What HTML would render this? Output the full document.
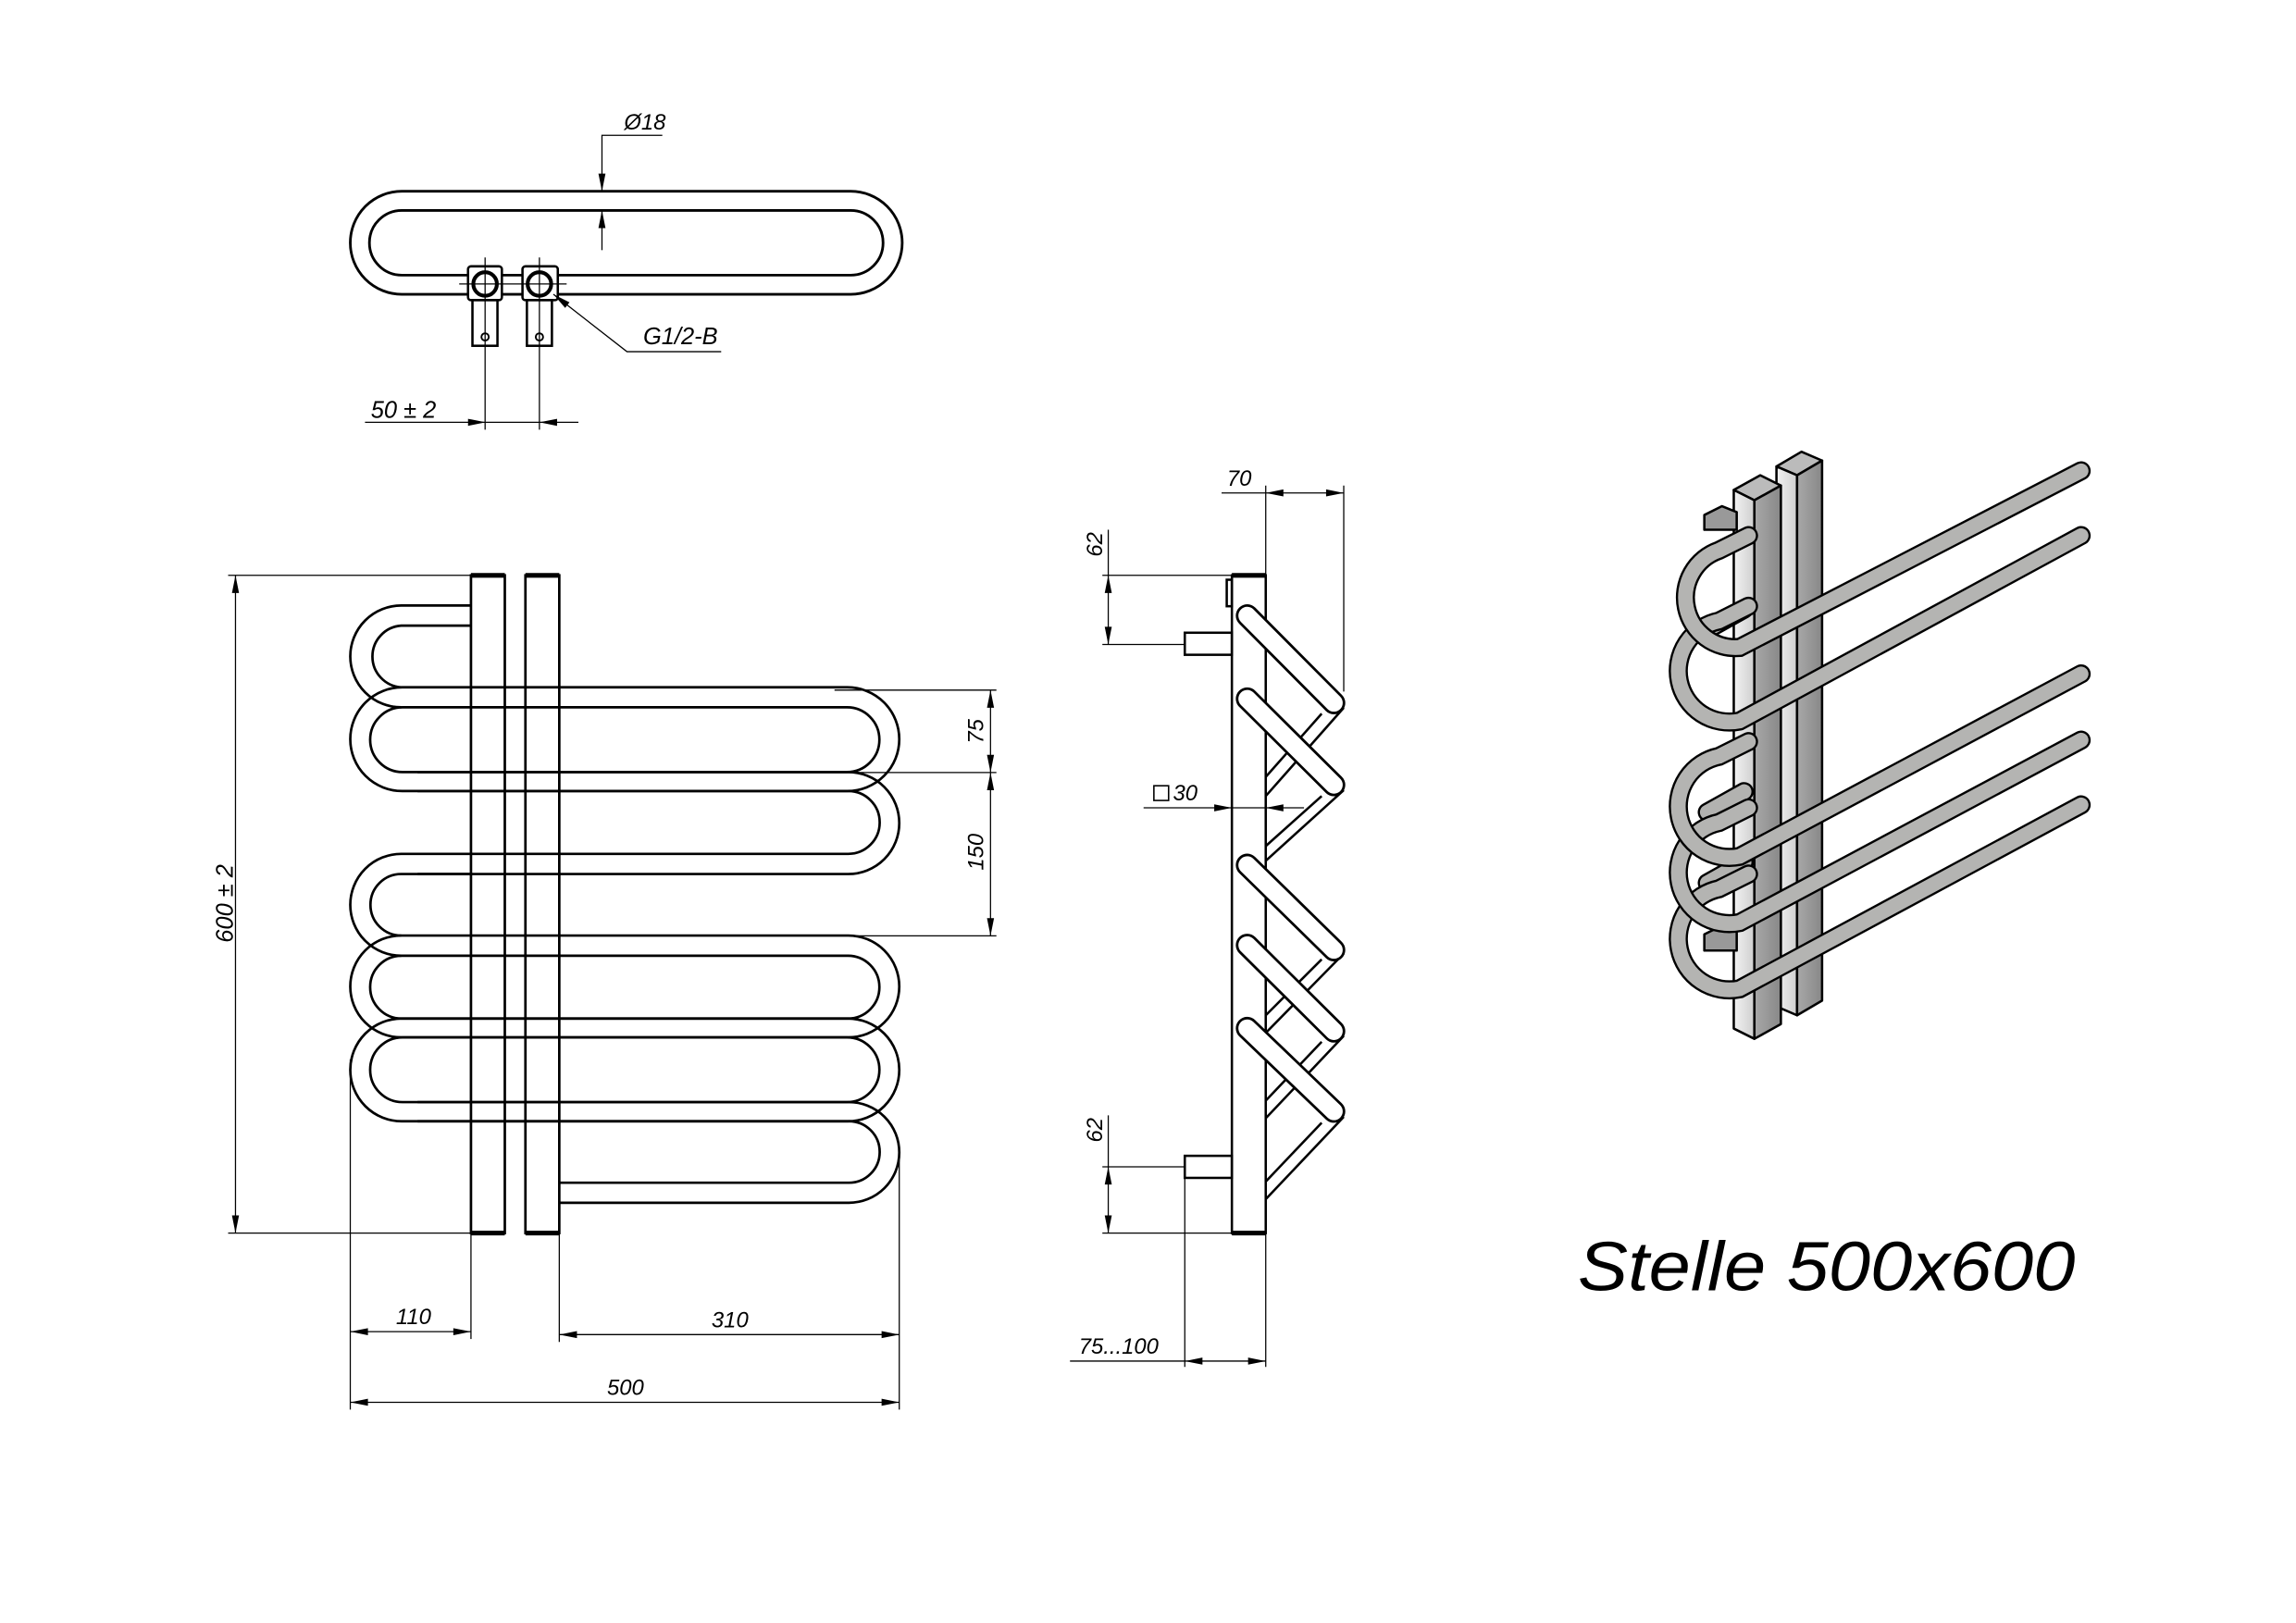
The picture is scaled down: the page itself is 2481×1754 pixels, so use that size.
<!DOCTYPE html>
<html><head><meta charset="utf-8"><style>
html,body{margin:0;padding:0;background:#fff;}
svg{display:block;}
text{font-family:"Liberation Sans",sans-serif;font-style:italic;fill:#000;}
</style></head><body>
<svg width="2481" height="1754" viewBox="0 0 1560 1103" preserveAspectRatio="none" xmlns="http://www.w3.org/2000/svg">
<defs>
<marker id="a" markerUnits="userSpaceOnUse" markerWidth="14" markerHeight="8" refX="0" refY="0" viewBox="-13 -4 14 8" orient="auto-start-reverse"><path d="M0,0 L-12,-2.4 L-12,2.4 Z" fill="#000"/></marker>
<linearGradient id="gl" x1="0" x2="1"><stop offset="0" stop-color="#f2f2f2"/><stop offset="1" stop-color="#cfcfcf"/></linearGradient>
<linearGradient id="gr" x1="0" x2="1"><stop offset="0" stop-color="#a8a8a8"/><stop offset="1" stop-color="#888"/></linearGradient>
</defs>
<rect width="1560" height="1103" fill="#fff"/>

<!-- ===== TOP VIEW ===== -->
<g fill="none" stroke="#000" stroke-width="1.8">
<rect x="238" y="130" width="375" height="70" rx="35"/>
<rect x="251" y="143" width="349" height="44" rx="22"/>
</g>
<g fill="#fff" stroke="#000" stroke-width="1.6">
<rect x="318" y="181" width="23" height="23" rx="2"/>
<rect x="355" y="181" width="24" height="23" rx="2"/>
<rect x="321" y="204" width="17" height="31"/>
<rect x="358" y="204" width="17" height="31"/>
<circle cx="329.6" cy="193" r="8" stroke-width="2.6"/>
<circle cx="366.5" cy="193" r="8" stroke-width="2.6"/>
<circle cx="329.6" cy="229" r="2.5" stroke-width="1.2"/>
<circle cx="366.5" cy="229" r="2.5" stroke-width="1.2"/>
</g>
<g stroke="#000" stroke-width="0.8" fill="none">
<line x1="312" y1="193" x2="385" y2="193"/>
<line x1="329.6" y1="175" x2="329.6" y2="292"/>
<line x1="366.5" y1="175" x2="366.5" y2="292"/>
<!-- 50±2 -->
<line x1="248" y1="287" x2="330" y2="287" marker-end="url(#a)"/>
<line x1="330" y1="287" x2="366.5" y2="287"/>
<line x1="393" y1="287" x2="366.5" y2="287" marker-end="url(#a)"/>
<!-- Ø18 -->
<polyline points="450,92 409,92 409,130" marker-end="url(#a)"/>
<line x1="409" y1="170" x2="409" y2="143" marker-end="url(#a)"/>
<!-- G1/2-B -->
<polyline points="490,239 426,239 376,200" marker-end="url(#a)"/>
</g>
<text x="252" y="284" font-size="16">50 ± 2</text>
<text x="424" y="88" font-size="15">Ø18</text>
<text x="437" y="234" font-size="16">G1/2-B</text>

<!-- ===== FRONT VIEW ===== -->
<g fill="none" stroke="#000" stroke-width="1.7">
<rect x="320" y="391" width="23" height="447"/>
<rect x="357" y="391" width="23" height="447"/>
<path d="M320,411.5 H272.6 A34.6,34.6 0 0 0 272.6,480.7"/>
<path d="M320,425.2 H272.6 A21,21 0 0 0 272.6,467.1"/>
<rect x="238" y="467.1" width="373" height="70.5" rx="35.25"/>
<rect x="251.5" y="480.7" width="346" height="44" rx="22"/>
<path d="M283.7,524.7 H576.35 A34.65,34.65 0 0 1 576.35,594 H283.7"/>
<path d="M283.7,537.6 H576.35 A21.35,21.35 0 0 1 576.35,580.3 H320"/>
<path d="M320,580.3 H272.6 A34.6,34.6 0 0 0 272.6,649.5"/>
<path d="M320,594 H272.6 A20.9,20.9 0 0 0 272.6,635.8"/>
<rect x="238" y="635.8" width="373" height="69.2" rx="34.6"/>
<rect x="251.5" y="649.5" width="346" height="42.7" rx="21.35"/>
<rect x="238" y="692.2" width="373" height="69.8" rx="34.9"/>
<rect x="251.5" y="705" width="346" height="44" rx="22"/>
<path d="M283.7,749 H576.8 A34.2,34.2 0 0 1 576.8,817.4 H379.5"/>
<path d="M283.7,762 H576.8 A20.9,20.9 0 0 1 576.8,803.8 H379.5"/>
</g>
<g stroke="#000" stroke-width="3.2">
<line x1="320" y1="391" x2="343" y2="391"/><line x1="357" y1="391" x2="380" y2="391"/>
<line x1="320" y1="838" x2="343" y2="838"/><line x1="357" y1="838" x2="380" y2="838"/>
</g>
<g stroke="#000" stroke-width="0.8" fill="none">
<line x1="155" y1="391" x2="320" y2="391"/>
<line x1="155" y1="838" x2="320" y2="838"/>
<line x1="160" y1="391" x2="160" y2="838" marker-start="url(#a)" marker-end="url(#a)"/>
<line x1="567" y1="469" x2="677" y2="469"/>
<line x1="577" y1="525" x2="677" y2="525"/>
<line x1="380" y1="636" x2="677" y2="636"/>
<line x1="673" y1="469" x2="673" y2="525" marker-start="url(#a)" marker-end="url(#a)"/>
<line x1="673" y1="525" x2="673" y2="636" marker-start="url(#a)" marker-end="url(#a)"/>
<line x1="238" y1="720" x2="238" y2="958"/>
<line x1="320" y1="838" x2="320" y2="910"/>
<line x1="380" y1="838" x2="380" y2="912"/>
<line x1="611" y1="785" x2="611" y2="958"/>
<line x1="238" y1="905" x2="320" y2="905" marker-start="url(#a)" marker-end="url(#a)"/>
<line x1="380" y1="907" x2="611" y2="907" marker-start="url(#a)" marker-end="url(#a)"/>
<line x1="238" y1="953" x2="611" y2="953" marker-start="url(#a)" marker-end="url(#a)"/>
</g>
<text transform="translate(158,614) rotate(-90)" font-size="16" text-anchor="middle">600 ± 2</text>
<text transform="translate(668,497) rotate(-90)" font-size="15" text-anchor="middle">75</text>
<text transform="translate(668,579) rotate(-90)" font-size="15" text-anchor="middle">150</text>
<text x="281" y="900" font-size="15" text-anchor="middle">110</text>
<text x="496" y="902" font-size="15" text-anchor="middle">310</text>
<text x="425" y="948" font-size="15" text-anchor="middle">500</text>

<!-- ===== SIDE VIEW ===== -->
<g fill="none" stroke="#000" stroke-width="1.6">
<rect x="837" y="391" width="23" height="447"/>
<rect x="833.5" y="394" width="3.5" height="18"/>
<rect x="805" y="430" width="32" height="15"/>
<rect x="805" y="785.5" width="32" height="15"/>
<line x1="913" y1="481" x2="860" y2="541"/>
<line x1="898" y1="485" x2="860" y2="528"/>
<line x1="913" y1="537" x2="860" y2="585"/>
<line x1="898" y1="541" x2="860" y2="575"/>
<line x1="913" y1="704" x2="860" y2="760"/>
<line x1="898" y1="708" x2="860" y2="748"/>
<line x1="913" y1="759" x2="860" y2="815"/>
<line x1="898" y1="763" x2="860" y2="803"/>
<line x1="913" y1="648" x2="860" y2="702"/>
<line x1="898" y1="652" x2="860" y2="690"/>
</g>
<g stroke-linecap="round">
<g stroke="#000" stroke-width="15.5">
<line x1="847.4" y1="418.4" x2="906.3" y2="477.7"/>
<line x1="847.4" y1="474.9" x2="906.3" y2="533.4"/>
<line x1="847.4" y1="587.9" x2="906.3" y2="645.6"/>
<line x1="847.4" y1="642.3" x2="906.3" y2="700.8"/>
<line x1="847.4" y1="698.8" x2="906.3" y2="755.3"/>
</g>
<g stroke="#fff" stroke-width="12">
<line x1="847.4" y1="418.4" x2="906.3" y2="477.7"/>
<line x1="847.4" y1="474.9" x2="906.3" y2="533.4"/>
<line x1="847.4" y1="587.9" x2="906.3" y2="645.6"/>
<line x1="847.4" y1="642.3" x2="906.3" y2="700.8"/>
<line x1="847.4" y1="698.8" x2="906.3" y2="755.3"/>
</g>
</g>
<g stroke="#000" stroke-width="3.2">
<line x1="837" y1="391" x2="860" y2="391"/><line x1="837" y1="838" x2="860" y2="838"/>
</g>
<g stroke="#000" stroke-width="0.8" fill="none">
<line x1="860" y1="330" x2="860" y2="391"/>
<line x1="913" y1="330" x2="913" y2="470"/>
<line x1="830" y1="335" x2="860" y2="335"/>
<line x1="860" y1="335" x2="913" y2="335" marker-start="url(#a)" marker-end="url(#a)"/>
<line x1="749" y1="391" x2="837" y2="391"/>
<line x1="749" y1="438" x2="805" y2="438"/>
<line x1="753" y1="360" x2="753" y2="391"/>
<line x1="753" y1="391" x2="753" y2="438" marker-start="url(#a)" marker-end="url(#a)"/>
<line x1="749" y1="793" x2="805" y2="793"/>
<line x1="749" y1="838" x2="837" y2="838"/>
<line x1="753" y1="758" x2="753" y2="793"/>
<line x1="753" y1="793" x2="753" y2="838" marker-start="url(#a)" marker-end="url(#a)"/>
<line x1="777" y1="549" x2="837" y2="549" marker-end="url(#a)"/>
<line x1="837" y1="549" x2="860" y2="549"/>
<line x1="886" y1="549" x2="860" y2="549" marker-end="url(#a)"/>
<line x1="805" y1="800" x2="805" y2="929"/>
<line x1="860" y1="838" x2="860" y2="929"/>
<line x1="727" y1="925" x2="805" y2="925"/>
<line x1="805" y1="925" x2="860" y2="925" marker-start="url(#a)" marker-end="url(#a)"/>
</g>
<text x="842" y="330" font-size="15" text-anchor="middle">70</text>
<text transform="translate(749,370) rotate(-90)" font-size="15" text-anchor="middle">62</text>
<text transform="translate(749,768) rotate(-90)" font-size="15" text-anchor="middle">62</text>
<rect x="784" y="534" width="10" height="10" fill="none" stroke="#000" stroke-width="1"/>
<text x="797" y="544" font-size="15">30</text>
<text x="733" y="920" font-size="15">75...100</text>

<!-- ===== 3D VIEW ===== -->
<g stroke="#000" stroke-width="1.6" stroke-linejoin="round">
<polygon points="1207,317 1221,323 1238,313 1224,307" fill="#bbb"/>
<polygon points="1207,317 1221,323 1221,690 1207,684" fill="url(#gl)"/>
<polygon points="1221,323 1238,313 1238,680 1221,690" fill="url(#gr)"/>
<polygon points="1178,333 1192,340 1210,330 1196,323" fill="#bbb"/>
<polygon points="1178,333 1192,340 1192,706 1178,699" fill="url(#gl)"/>
<polygon points="1192,340 1210,330 1210,696 1192,706" fill="url(#gr)"/>
<polygon points="1158,350 1170,344 1180,348 1180,360 1158,360" fill="#999"/>
<polygon points="1158,635 1170,629 1180,633 1180,646 1158,646" fill="#999"/>
</g>
<g fill="none" stroke-linecap="round" stroke-linejoin="round">
<g stroke="#000" stroke-width="13">
<path d="M1160,552 L1185,538"/><path d="M1160,600 L1185,586"/><path d="M1160,428 L1185,414"/>
</g>
<g stroke="#b2b2b0" stroke-width="10">
<path d="M1160,552 L1185,538"/><path d="M1160,600 L1185,586"/><path d="M1160,428 L1185,414"/>
</g>
</g>
<g fill="none" stroke-linecap="round">
<g><path d="M1188,594 L1168,604 A34,34 0 0 0 1182,672 L1414,547" stroke="#000" stroke-width="13"/><path d="M1188,594 L1168,604 A34,34 0 0 0 1182,672 L1414,547" stroke="#b4b4b2" stroke-width="10"/></g>
<g><path d="M1188,549 L1168,559 A34,34 0 0 0 1182,627 L1414,503" stroke="#000" stroke-width="13"/><path d="M1188,549 L1168,559 A34,34 0 0 0 1182,627 L1414,503" stroke="#b4b4b2" stroke-width="10"/></g>
<g><path d="M1188,504 L1168,514 A34,34 0 0 0 1182,582 L1414,458" stroke="#000" stroke-width="13"/><path d="M1188,504 L1168,514 A34,34 0 0 0 1182,582 L1414,458" stroke="#b4b4b2" stroke-width="10"/></g>
<g><path d="M1188,412 L1168,422 A34,34 0 0 0 1182,490 L1414,364" stroke="#000" stroke-width="13"/><path d="M1188,412 L1168,422 A34,34 0 0 0 1182,490 L1414,364" stroke="#b4b4b2" stroke-width="10"/></g>
<g><path d="M1188,364 L1168,374 A34,34 0 0 0 1182,440 L1414,320" stroke="#000" stroke-width="13"/><path d="M1188,364 L1168,374 A34,34 0 0 0 1182,440 L1414,320" stroke="#b4b4b2" stroke-width="10"/></g>
</g>

<text x="1072" y="877" font-size="47" textLength="338" lengthAdjust="spacingAndGlyphs">Stelle 500x600</text>
</svg>
</body></html>
